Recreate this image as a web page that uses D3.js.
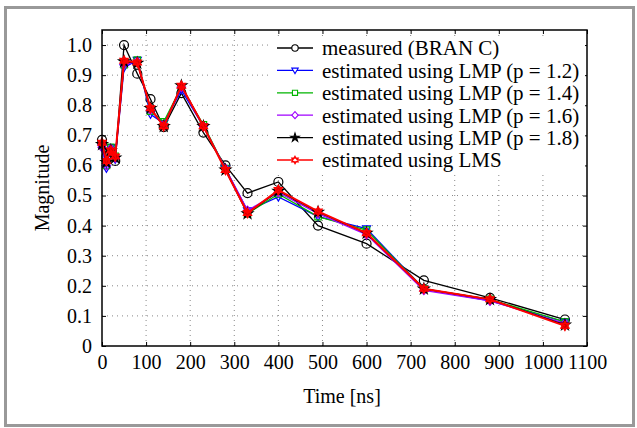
<!DOCTYPE html>
<html>
<head>
<meta charset="utf-8">
<script src="https://cdn.jsdelivr.net/npm/d3@7"></script>
<style>
body { margin: 0; background: #fff; }
</style>
</head>
<body>
<svg id="chart" width="637" height="428"></svg>
<script>
var svgWidth = 637;
var svgHeight = 428;
var serif = "'Liberation Serif'";

// time axis (ns)
var times = [0, 10, 20, 30, 50, 80, 110, 140, 180, 230, 280, 330, 400, 490, 600, 730, 880, 1050];
var measured = [0.685, 0.63, 0.65, 0.615, 1.0, 0.905, 0.82, 0.727, 0.84, 0.709, 0.60, 0.508, 0.545, 0.40, 0.34, 0.218, 0.16, 0.088];
var lmp12 = [0.66, 0.59, 0.66, 0.62, 0.925, 0.95, 0.77, 0.74, 0.85, 0.73, 0.59, 0.45, 0.495, 0.43, 0.39, 0.19, 0.15, 0.08];
var lmp14 = [0.67, 0.60, 0.66, 0.63, 0.935, 0.95, 0.78, 0.745, 0.86, 0.735, 0.59, 0.44, 0.505, 0.43, 0.385, 0.19, 0.155, 0.08];
var lmp16 = [0.66, 0.60, 0.655, 0.625, 0.935, 0.945, 0.785, 0.735, 0.86, 0.73, 0.59, 0.45, 0.51, 0.44, 0.37, 0.185, 0.15, 0.075];
var lmp18 = [0.67, 0.61, 0.65, 0.625, 0.945, 0.94, 0.79, 0.73, 0.865, 0.73, 0.585, 0.44, 0.515, 0.445, 0.375, 0.19, 0.155, 0.07];
var lms = [0.675, 0.615, 0.65, 0.63, 0.948, 0.942, 0.79, 0.73, 0.865, 0.73, 0.585, 0.442, 0.518, 0.447, 0.375, 0.19, 0.155, 0.067];

var xTicks = [0, 100, 200, 300, 400, 500, 600, 700, 800, 900, 1000, 1100];
var yTicks = [0, 0.1, 0.2, 0.3, 0.4, 0.5, 0.6, 0.7, 0.8, 0.9, 1.0];

var seriesNames = ["measured (BRAN C)", "estimated using LMP (p = 1.2)", "estimated using LMP (p = 1.4)",
  "estimated using LMP (p = 1.6)", "estimated using LMP (p = 1.8)", "estimated using LMS"];
var seriesValues = [measured, lmp12, lmp14, lmp16, lmp18, lms];
var seriesColors = ["#000000", "#0000ff", "#00b400", "#a000ff", "#000000", "#ff0000"];
var seriesMarks = ["circle", "triangle", "square", "diamond", "star", "hexagram"];

var plot = {left: 102, top: 30, right: 587, bottom: 346};

var svg = d3.select("#chart");

// outer gray frame
svg.append("rect")
  .attr("x", 5.5).attr("y", 7.5)
  .attr("width", 628).attr("height", 418)
  .attr("fill", "none")
  .attr("stroke", "#999")
  .attr("stroke-width", 3);

var x = d3.scaleLinear().domain([0, 1100]).range([plot.left, plot.right]);
var y = d3.scaleLinear().domain([0, 1.05]).range([plot.bottom, plot.top]);

// dotted grid
var grid = svg.append("g");
grid.selectAll(".gx").data(xTicks.slice(1, -1)).enter().append("line")
  .attr("x1", function(d){ return x(d); }).attr("x2", function(d){ return x(d); })
  .attr("y1", plot.top).attr("y2", plot.bottom)
  .attr("stroke", "#888").attr("stroke-width", 1).attr("stroke-dasharray", "1,4");
grid.selectAll(".gy").data(yTicks.slice(1)).enter().append("line")
  .attr("x1", plot.left).attr("x2", plot.right)
  .attr("y1", function(d){ return y(d); }).attr("y2", function(d){ return y(d); })
  .attr("stroke", "#888").attr("stroke-width", 1).attr("stroke-dasharray", "1,4");

// axes (ticks pointing inward)
var xAxis = d3.axisBottom(x).tickValues(xTicks).tickSizeInner(-4).tickSizeOuter(0).tickPadding(9)
  .tickFormat(d3.format("d"));
var yAxis = d3.axisLeft(y).tickValues(yTicks).tickSizeInner(-4).tickSizeOuter(0).tickPadding(10)
  .tickFormat(function(d){ return d === 0 ? "0" : d3.format(".1f")(d); });

var gx = svg.append("g").attr("transform", "translate(0," + plot.bottom + ")").call(xAxis);
var gy = svg.append("g").attr("transform", "translate(" + plot.left + ",0)").call(yAxis);
svg.append("g").attr("transform", "translate(0," + plot.top + ")")
  .call(d3.axisTop(x).tickValues(xTicks).tickSizeInner(-4).tickSizeOuter(0).tickFormat(""));
svg.append("g").attr("transform", "translate(" + plot.right + ",0)")
  .call(d3.axisRight(y).tickValues(yTicks).tickSizeInner(-4).tickSizeOuter(0).tickFormat(""));
svg.selectAll(".domain").remove();
svg.selectAll(".tick line").attr("stroke", "#000");
gx.attr("font-family", null);
gy.attr("font-family", null);
gx.selectAll("text").style("font-family", serif).attr("font-size", 20).attr("dy", "0.71em");
gy.selectAll("text").style("font-family", serif).attr("font-size", 20);

// marker paths
function markPath(type, r) {
  if (type === "circle") return d3.symbol().type(d3.symbolCircle).size(Math.PI * r * r)();
  if (type === "triangle") {
    return "M" + (-r) + "," + (-r * 0.7) + "L" + r + "," + (-r * 0.7) + "L0," + (r * 1.0) + "Z";
  }
  if (type === "square") return "M" + (-r * 0.8) + "," + (-r * 0.8) + "h" + (1.6 * r) + "v" + (1.6 * r) + "h" + (-1.6 * r) + "Z";
  if (type === "diamond") return "M0," + (-r * 1.1) + "L" + r + ",0L0," + (r * 1.1) + "L" + (-r) + ",0Z";
  if (type === "star") return d3.symbol().type(d3.symbolStar).size(r * r * 2.2)();
  // hexagram: two overlaid triangles
  var p = "";
  [0, Math.PI].forEach(function(off){
    var pts = [0, 1, 2].map(function(k){
      var a = off - Math.PI / 2 + k * 2 * Math.PI / 3;
      return [r * 1.2 * Math.cos(a), r * 1.2 * Math.sin(a)];
    });
    p += "M" + pts.map(function(q){ return q[0].toFixed(2) + "," + q[1].toFixed(2); }).join("L") + "Z";
  });
  return p;
}

var line = d3.line()
  .x(function(d){ return x(d[0]); })
  .y(function(d){ return y(d[1]); });

seriesValues.forEach(function(vals, s){
  var pts = times.map(function(t, i){ return [t, vals[i]]; });
  var g = svg.append("g");
  g.append("path").datum(pts)
    .attr("d", line)
    .attr("fill", "none")
    .attr("stroke", seriesColors[s])
    .attr("stroke-width", s === 5 ? 2 : 1.3);
  g.selectAll("path.mark").data(pts).enter().append("path")
    .attr("class", "mark")
    .attr("transform", function(d){ return "translate(" + x(d[0]) + "," + y(d[1]) + ")"; })
    .attr("d", markPath(seriesMarks[s], s === 0 ? 4.5 : 4))
    .attr("fill", seriesMarks[s] === "star" ? "#000" : (s === 5 ? "#ff0000" : "none"))
    .attr("fill-opacity", s === 5 ? 0.8 : 1)
    .attr("stroke", seriesColors[s])
    .attr("stroke-width", 1.2);
});

// legend
var legend = svg.append("g");
legend.append("rect")
  .attr("x", 272).attr("y", 36).attr("width", 313).attr("height", 136)
  .attr("fill", "#fff");
seriesNames.forEach(function(name, s){
  var ly = 48 + s * 22.4;
  legend.append("line")
    .attr("x1", 277).attr("x2", 313).attr("y1", ly).attr("y2", ly)
    .attr("stroke", seriesColors[s]).attr("stroke-width", 1.3);
  legend.append("path")
    .attr("transform", "translate(295," + ly + ")")
    .attr("d", markPath(seriesMarks[s], 3.2))
    .attr("fill", seriesMarks[s] === "star" ? "#000" : "#fff")
    .attr("stroke", seriesColors[s]).attr("stroke-width", 1.1);
  legend.append("text")
    .attr("x", 322).attr("y", ly).attr("dy", "0.35em")
    .style("font-family", serif)
    .attr("font-size", 21)
    .text(name);
});

// frame of the plot area
svg.append("rect")
  .attr("x", plot.left).attr("y", plot.top)
  .attr("width", plot.right - plot.left).attr("height", plot.bottom - plot.top)
  .attr("fill", "none").attr("stroke", "#000").attr("stroke-width", 1.5);

// axis titles
svg.append("text")
  .attr("x", 342).attr("y", 403)
  .attr("text-anchor", "middle").attr("font-size", 20)
  .style("font-family", serif)
  .text("Time [ns]");
svg.append("text")
  .attr("transform", "translate(49," + ((plot.top + plot.bottom) / 2) + ") rotate(-90)")
  .attr("text-anchor", "middle").attr("font-size", 20)
  .style("font-family", serif)
  .text("Magnitude");
</script>
</body>
</html>
